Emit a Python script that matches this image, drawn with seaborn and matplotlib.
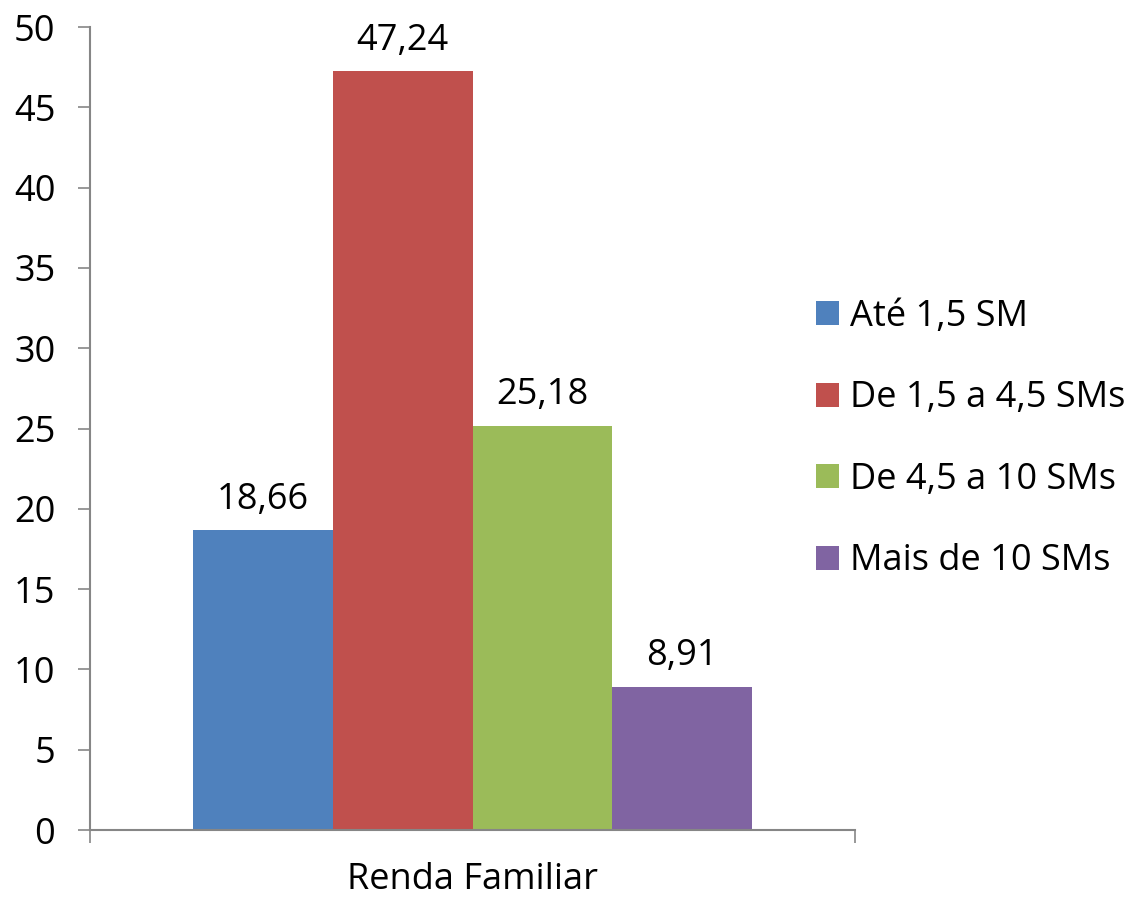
import numpy as np
import pandas as pd
import matplotlib.pyplot as plt
import seaborn as sns

# data
category = "Renda Familiar"
series = ["Até 1,5 SM", "De 1,5 a 4,5 SMs", "De 4,5 a 10 SMs", "Mais de 10 SMs"]
values = [18.66, 47.24, 25.18, 8.91]
colors = ["#4F81BD", "#C0504D", "#9BBB59", "#8064A2"]
yticks = [0, 5, 10, 15, 20, 25, 30, 35, 40, 45, 50]

df = pd.DataFrame({"Categoria": [category] * len(series), "Faixa": series, "Valor": values})

sns.set_theme(style="white")
plt.rcParams['font.family'] = ['Open Sans', 'DejaVu Sans']
plt.rcParams['text.color'] = 'black'
plt.rcParams['xtick.labelcolor'] = 'black'
plt.rcParams['ytick.labelcolor'] = 'black'
axis_gray = "#868686"
fs = 26

fig = plt.figure(figsize=(11.4, 9.02), dpi=100)
ax = fig.add_axes([90 / 1140, 1 - 830 / 902, (855 - 90) / 1140, (830 - 27) / 902])

sns.barplot(data=df, x="Categoria", y="Valor", hue="Faixa", palette=colors,
            width=0.73, saturation=1, linewidth=0, ax=ax, legend=True)

for container in ax.containers:
    ax.bar_label(container, labels=[f"{v:.2f}".replace(".", ",") for v in container.datavalues],
                 padding=9, fontsize=fs, color="black")

ax.set_xlim(-0.5, 0.5)
ax.set_ylim(0, 50)
ax.set_yticks(yticks)
ax.set_yticklabels([str(t) for t in yticks], fontsize=fs)
ax.set_xticks([-0.5, 0.5])
ax.set_xticklabels(["", ""])
ax.set_xticks([0], minor=True)
ax.set_xticklabels([category], minor=True, fontsize=fs)
ax.tick_params(axis="x", which="minor", length=0, pad=23, labelcolor="black")
ax.tick_params(axis="x", which="major", length=9, width=1.2, color=axis_gray, direction="out", bottom=True)
ax.tick_params(axis="y", length=9, width=1.2, color=axis_gray, direction="out", left=True, pad=16,
               labelcolor="black")
ax.set_xlabel("")
ax.set_ylabel("")

for side in ["top", "right"]:
    ax.spines[side].set_visible(False)
for side in ["left", "bottom"]:
    ax.spines[side].set_color(axis_gray)
    ax.spines[side].set_linewidth(1.5)

handles, labels = ax.get_legend_handles_labels()
ax.get_legend().remove()
fig.legend(handles, labels, loc="center left", bbox_to_anchor=(816 / 1140, 1 - 439 / 902),
           frameon=False, fontsize=fs, handlelength=0.65, handleheight=0.65,
           handletextpad=0.3, labelspacing=1.26, borderaxespad=0, borderpad=0,
           labelcolor="black")

fig.savefig("out.png", dpi=100, facecolor="white")
